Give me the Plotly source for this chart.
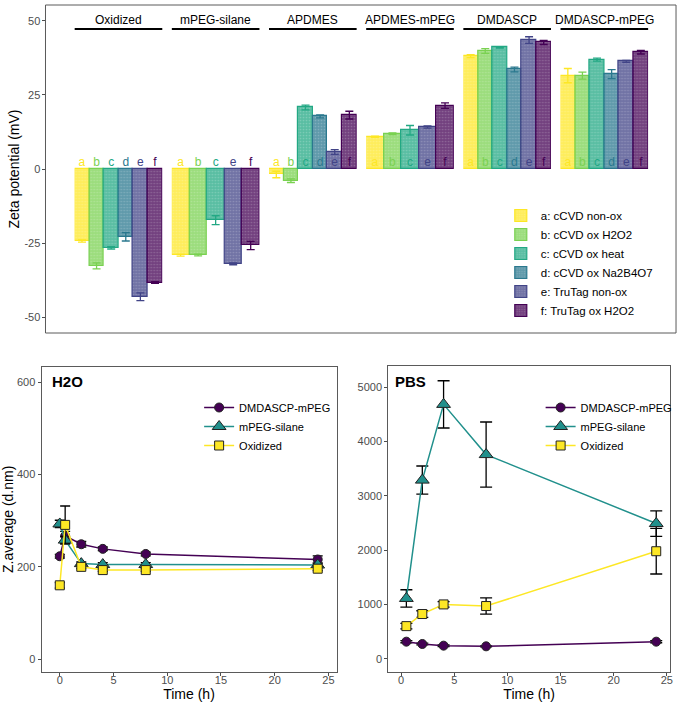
import plotly.graph_objects as go

W, H = 684, 705

# ---------------- data: zeta potential ----------------
groups = ["Oxidized", "mPEG-silane", "APDMES", "APDMES-mPEG", "DMDASCP", "DMDASCP-mPEG"]
letters = ["a", "b", "c", "d", "e", "f"]
legend_names = ["a: cCVD non-ox", "b: cCVD ox H2O2", "c: cCVD ox heat",
                "d: cCVD ox Na2B4O7", "e: TruTag non-ox", "f: TruTag ox H2O2"]
bar_colors = ["#FDE725", "#7AD151", "#22A884", "#2A788E", "#414487", "#440154"]

zeta_oxidized = [-24.2, -32.6, -26.5, -22.8, -43.0, -38.2]
err_oxidized = [0.4, 1.0, 0.4, 1.4, 1.3, 0.3]
zeta_mpeg_silane = [-29.0, -28.9, -17.2, None, -31.9, -25.7]
err_mpeg_silane = [0.3, 0.3, 1.5, None, 0.3, 1.4]
zeta_apdmes = [-1.8, -3.9, 20.8, 17.8, 5.8, 18.2]
err_apdmes = [1.1, 0.6, 0.8, 0.5, 0.8, 1.3]
zeta_apdmes_mpeg = [10.9, 11.9, 13.1, None, 14.2, 21.4]
err_apdmes_mpeg = [0.2, 0.3, 1.6, None, 0.4, 0.9]
zeta_dmdascp = [38.1, 39.8, 41.0, 33.6, 43.5, 42.7]
err_dmdascp = [0.5, 0.8, 0.2, 0.8, 1.1, 0.7]
zeta_dmdascp_mpeg = [31.5, 31.5, 36.9, 32.0, 36.3, 39.4]
err_dmdascp_mpeg = [2.4, 1.2, 0.5, 1.5, 0.3, 0.6]

zeta_vals = [zeta_oxidized, zeta_mpeg_silane, zeta_apdmes, zeta_apdmes_mpeg, zeta_dmdascp, zeta_dmdascp_mpeg]
zeta_errs = [err_oxidized, err_mpeg_silane, err_apdmes, err_apdmes_mpeg, err_dmdascp, err_dmdascp_mpeg]

# ---------------- data: DLS ----------------
series_names = ["DMDASCP-mPEG", "mPEG-silane", "Oxidized"]
line_colors = ["#440154", "#21908C", "#FDE725"]
symbols = ["circle", "triangle-up", "square"]

h2o_time = [0, 0.5, 2, 4, 8, 24]
h2o_dmdascp_mpeg = [223, 267, 249, 239, 228, 216]
h2o_dmdascp_mpeg_err = [4, 10, 6, 4, 4, 8]
h2o_mpeg_silane = [293, 258, 207, 205, 205, 204]
h2o_mpeg_silane_err = [8, 8, 4, 4, 4, 4]
h2o_oxidized = [160, 291, 200, 193, 193, 196]
h2o_oxidized_err = [6, 41, 4, 3, 3, 4]

pbs_time = [0.5, 2, 4, 8, 24]
pbs_dmdascp_mpeg = [314, 271, 240, 228, 314]
pbs_dmdascp_mpeg_err = [20, 15, 15, 10, 20]
pbs_mpeg_silane = [1110, 3290, 4685, 3760, 2490]
pbs_mpeg_silane_err = [160, 260, 435, 600, 235]
pbs_oxidized = [600, 823, 1000, 970, 1980]
pbs_oxidized_err = [50, 60, 50, 150, 420]

FONT = "Liberation Sans, Arial, sans-serif"
GREY = "#4D4D4D"
FRAME = "#5a5a5a"


def rgba(hexc, a):
    h = hexc.lstrip("#")
    r, g, b = int(h[0:2], 16), int(h[2:4], 16), int(h[4:6], 16)
    return f"rgba({r},{g},{b},{a})"


def fx(px):
    return px / W


def fy(py):
    return 1 - py / H


fig = go.Figure()

# ---------------- top panel layout ----------------
top_left, top_right, top_top, top_bot = 45.7, 679, 5, 333
g_start, g_step, g_width = 75, 97.6, 88

layout = {}
for k, g in enumerate(groups):
    ax = "xaxis" if k == 0 else f"xaxis{k+1}"
    present = [letters[i] for i in range(6) if zeta_vals[k][i] is not None]
    x0 = g_start + g_step * k
    layout[ax] = dict(domain=[fx(x0), fx(x0 + g_width)], anchor="y",
                      type="category", categoryorder="array", categoryarray=present,
                      range=[-0.5, len(present) - 0.5],
                      showticklabels=False, showline=False, ticks="", showgrid=False,
                      zeroline=False, fixedrange=True)

layout["yaxis"] = dict(domain=[fy(top_bot), fy(top_top)], anchor="free", position=fx(top_left),
                       range=[-55.2, 55.3], tickvals=[-50, -25, 0, 25, 50],
                       ticktext=["-50", "-25", "0", "25", "50"],
                       ticks="outside", ticklen=3, tickcolor=GREY,
                       tickfont=dict(size=11, color=GREY, family=FONT),
                       showline=False, showgrid=False, zeroline=False,
                       title=dict(text="Zeta potential (mV)", font=dict(size=14, color="black", family=FONT),
                                  standoff=0))

# bars
for i, letter in enumerate(letters):
    first = True
    for k, g in enumerate(groups):
        v = zeta_vals[k][i]
        if v is None:
            continue
        xa = "x" if k == 0 else f"x{k+1}"
        fig.add_trace(go.Bar(
            x=[letter], y=[v], width=[1], xaxis=xa, yaxis="y",
            name=legend_names[i], legendgroup=letter, showlegend=first, legend="legend",
            marker=dict(color=rgba(bar_colors[i], 0.75),
                        line=dict(color=bar_colors[i], width=1.2),
                        pattern=dict(shape=".", size=3, solidity=0.25, fgcolor="white", fgopacity=0.2)),
            error_y=dict(type="data", array=[zeta_errs[k][i]], color=bar_colors[i],
                         thickness=1.3, width=4),
            hoverinfo="skip"))
        first = False

# letters at zero
for k, g in enumerate(groups):
    xa = "x" if k == 0 else f"x{k+1}"
    present = [i for i in range(6) if zeta_vals[k][i] is not None]
    fig.add_trace(go.Scatter(
        x=[letters[i] for i in present], y=[0] * len(present), xaxis=xa, yaxis="y",
        mode="text", text=[letters[i] for i in present], textposition="top center",
        textfont=dict(size=12, color=[bar_colors[i] for i in present], family=FONT),
        showlegend=False, hoverinfo="skip"))

annotations = []
shapes = [dict(type="rect", xref="paper", yref="paper",
               x0=fx(top_left), x1=fx(top_right), y0=fy(top_bot), y1=fy(top_top),
               line=dict(color=FRAME, width=1), fillcolor="rgba(0,0,0,0)", layer="above")]
for k, g in enumerate(groups):
    xr = "x domain" if k == 0 else f"x{k+1} domain"
    annotations.append(dict(text=g, xref=xr, x=0.5, yref="y", y=50.2, showarrow=False,
                            xanchor="center", yanchor="middle",
                            font=dict(size=12, color="black", family=FONT)))
    shapes.append(dict(type="line", xref=xr, x0=0, x1=1, yref="y", y0=47.2, y1=47.2,
                       line=dict(color="black", width=2)))

# ---------------- bottom panels ----------------
layout["xaxis8"] = dict(domain=[fx(41.7), fx(338)], anchor="y8", range=[-1.7, 25.75],
                        tickvals=[0, 5, 10, 15, 20, 25])
layout["yaxis8"] = dict(domain=[fy(672), fy(366.7)], anchor="x8", range=[-28, 634],
                        tickvals=[0, 200, 400, 600])
layout["xaxis9"] = dict(domain=[fx(390), fx(673)], anchor="y9", range=[-1.2, 25.3],
                        tickvals=[0, 5, 10, 15, 20, 25])
layout["yaxis9"] = dict(domain=[fy(672), fy(366)], anchor="x9", range=[-245, 5392],
                        tickvals=[0, 1000, 2000, 3000, 4000, 5000])
for ax in ["xaxis8", "yaxis8", "xaxis9", "yaxis9"]:
    layout[ax].update(ticks="outside", ticklen=3, tickcolor=GREY,
                      tickfont=dict(size=11, color=GREY, family=FONT),
                      showline=True, linecolor=FRAME, linewidth=1, mirror=True,
                      showgrid=False, zeroline=False)
for ax in ["xaxis8", "xaxis9"]:
    layout[ax]["ticklabelstandoff"] = -5
    layout[ax]["title"] = dict(text="Time (h)", font=dict(size=14, color="black", family=FONT), standoff=3)
layout["yaxis8"]["title"] = dict(text="Z.average (d.nm)", font=dict(size=14, color="black", family=FONT), standoff=0)

h2o_vals = [h2o_dmdascp_mpeg, h2o_mpeg_silane, h2o_oxidized]
h2o_errs = [h2o_dmdascp_mpeg_err, h2o_mpeg_silane_err, h2o_oxidized_err]
pbs_vals = [pbs_dmdascp_mpeg, pbs_mpeg_silane, pbs_oxidized]
pbs_errs = [pbs_dmdascp_mpeg_err, pbs_mpeg_silane_err, pbs_oxidized_err]
msizes = [9, 12, 9]

for j, nm in enumerate(series_names):
    fig.add_trace(go.Scatter(
        x=h2o_time, y=h2o_vals[j], xaxis="x8", yaxis="y8", mode="lines+markers",
        name=nm, legend="legend2",
        line=dict(color=line_colors[j], width=1.5),
        marker=dict(symbol=symbols[j], size=msizes[j], color=line_colors[j],
                    line=dict(color="#222222", width=1)),
        error_y=dict(type="data", array=h2o_errs[j], color="black", thickness=1.3, width=5),
        hoverinfo="skip"))
    fig.add_trace(go.Scatter(
        x=pbs_time, y=pbs_vals[j], xaxis="x9", yaxis="y9", mode="lines+markers",
        name=nm, legend="legend3",
        line=dict(color=line_colors[j], width=1.5),
        marker=dict(symbol=symbols[j], size=msizes[j], color=line_colors[j],
                    line=dict(color="#222222", width=1)),
        error_y=dict(type="data", array=pbs_errs[j], color="black", thickness=1.3, width=6),
        hoverinfo="skip"))

annotations.append(dict(text="<b>H2O</b>", xref="x8 domain", x=0.03, yref="y8 domain", y=0.95,
                        xanchor="left", yanchor="middle", showarrow=False,
                        font=dict(size=15, color="black", family=FONT)))
annotations.append(dict(text="<b>PBS</b>", xref="x9 domain", x=0.015, yref="y9 domain", y=0.95,
                        xanchor="left", yanchor="middle", showarrow=False,
                        font=dict(size=15, color="black", family=FONT)))

fig.update_layout(
    width=W, height=H, margin=dict(l=0, r=0, t=0, b=0),
    paper_bgcolor="white", plot_bgcolor="white",
    barmode="overlay", bargap=0,
    font=dict(family=FONT, color="black"),
    annotations=annotations, shapes=shapes,
    legend=dict(x=fx(503), y=fy(201), xanchor="left", yanchor="top",
                font=dict(size=11.5, family=FONT), bgcolor="rgba(0,0,0,0)",
                traceorder="normal", itemwidth=30),
    legend2=dict(x=fx(200), y=fy(393), xanchor="left", yanchor="top",
                 font=dict(size=11, family=FONT), bgcolor="rgba(0,0,0,0)", itemwidth=30),
    legend3=dict(x=fx(543), y=fy(393), xanchor="left", yanchor="top",
                 font=dict(size=11, family=FONT), bgcolor="rgba(0,0,0,0)", itemwidth=30),
    **layout)

fig.write_html("out.html")
